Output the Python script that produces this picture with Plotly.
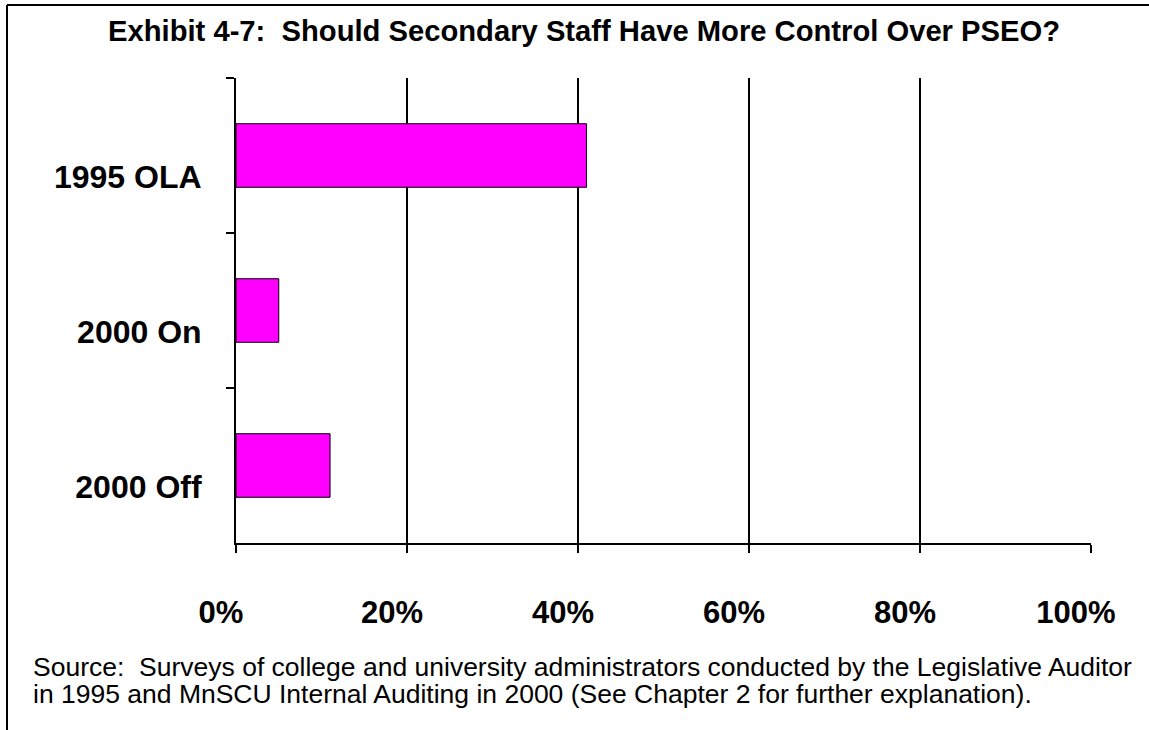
import plotly.graph_objects as go

categories = ["1995 OLA", "2000 On", "2000 Off"]
values = [0.41, 0.05, 0.11]
x_ticks = [0, 0.2, 0.4, 0.6, 0.8, 1.0]
x_tick_labels = ["0%", "20%", "40%", "60%", "80%", "100%"]
title_text = "Exhibit 4-7:  Should Secondary Staff Have More Control Over PSEO?"
source_lines = [
    "Source:  Surveys of college and university administrators conducted by the Legislative Auditor",
    "in 1995 and MnSCU Internal Auditing in 2000 (See Chapter 2 for further explanation).",
]

W, H = 1149, 730
L, R, T, B = 236, 58, 78, 187
pw = W - L - R
ph = H - T - B

def px(x):
    return (x - L) / pw

def py(y):
    return (H - B - y) / ph

FONT = "Liberation Sans, Arial, sans-serif"

fig = go.Figure()
fig.add_trace(go.Bar(
    y=categories, x=values, orientation="h",
    marker=dict(color="#FF00FF", line=dict(color="black", width=1)),
    width=0.41,
))

annotations = [
    dict(text=title_text, xref="paper", yref="paper",
         x=px(584), y=py(31), xanchor="center", yanchor="middle",
         showarrow=False, font=dict(size=29.2, family=FONT, weight="bold")),
]
for i, line in enumerate(source_lines):
    annotations.append(dict(text=line, xref="paper", yref="paper",
                            x=px(31), y=py(667 + 27 * i), xanchor="left", yanchor="middle",
                            align="left", showarrow=False,
                            font=dict(size=26.5, family=FONT)))

fig.update_layout(
    width=W, height=H,
    margin=dict(l=L, r=R, t=T, b=B),
    paper_bgcolor="white", plot_bgcolor="white",
    showlegend=False,
    font=dict(family=FONT, color="black"),
    xaxis=dict(
        range=[0, 1], tickvals=x_ticks, ticktext=x_tick_labels,
        showgrid=True, gridcolor="black", gridwidth=1.5,
        showline=True, linecolor="black", linewidth=2,
        ticks="outside", ticklen=8, tickwidth=1.5, tickcolor="black",
        tickfont=dict(size=31, family=FONT, weight="bold"),
        ticklabelstandoff=33,
        ticklabelshift=-15,
        zeroline=False, fixedrange=True,
    ),
    yaxis=dict(
        type="category", categoryorder="array", categoryarray=categories,
        autorange="reversed",
        showline=True, linecolor="black", linewidth=2,
        ticks="outside", ticklen=8, tickwidth=1.5, tickcolor="black",
        tickson="boundaries",
        tickfont=dict(size=32, family=FONT, weight="bold"),
        ticklabelshift=-21,
        ticklabelstandoff=26,
        showgrid=False, zeroline=False, fixedrange=True,
    ),
    shapes=[
        dict(type="line", xref="paper", yref="paper",
             x0=px(7), x1=px(W + 10), y0=py(5), y1=py(5),
             line=dict(color="black", width=2)),
        dict(type="line", xref="paper", yref="paper",
             x0=px(7), x1=px(7), y0=py(5), y1=py(H + 10),
             line=dict(color="black", width=2)),
    ],
    annotations=annotations,
)

fig.write_html("out.html")
